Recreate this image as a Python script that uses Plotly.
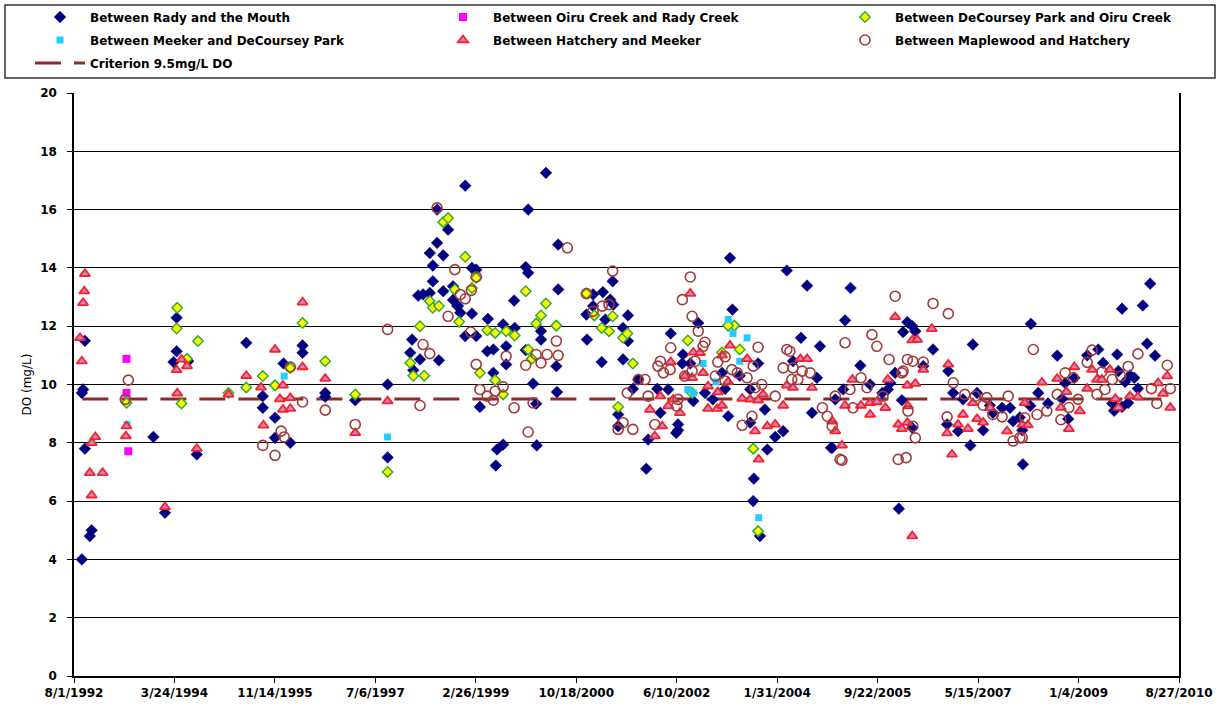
import datetime as dt
import plotly.graph_objects as go

# ---------------- data (decimal year, DO mg/L) ----------------
rady_t = [1992.71, 1992.84, 1992.87, 1992.76, 1992.71, 1992.73, 1992.76, 1994.26, 1994.26, 1994.21,
          1994.45, 1993.88, 1994.07, 1994.59, 1995.40, 1995.67, 1995.67,
          1996.01, 1995.87, 1995.87, 1996.12, 1996.32, 1996.32, 1996.69, 1996.69, 1997.18, 1997.71,
          1997.71, 1998.11, 1998.08, 1998.24, 1998.13, 1998.55, 1998.21, 1998.29, 1998.40, 1998.45,
          1998.45, 1998.40, 1998.52, 1998.62, 1998.70, 1998.62, 1998.78, 1998.85, 1998.52,
          1998.98, 2000.30, 2000.01, 2000.50, 1999.09, 1999.16, 1999.97, 2000.01, 2001.39, 1998.78,
          1998.86, 1998.90, 1999.09, 1998.98, 1999.16, 1999.35, 1999.60, 1999.78, 1999.34, 1999.44,
          1999.65, 1999.65, 1999.44, 1999.79, 1999.97, 2000.22, 2000.22, 2000.47, 2000.09, 2000.48,
          2000.14, 1999.22, 1999.60, 1999.50, 1999.48, 2000.15, 2000.50, 2000.97, 2001.07, 2001.23,
          2000.96, 2001.07, 2001.35, 2001.40, 2001.27, 2001.64, 2001.56, 2001.64, 2001.21, 2001.56,
          2001.72, 2001.81, 2001.48, 2001.48, 2001.94, 2001.97,
          2003.31, 2004.24, 2004.57, 2003.35, 2002.79, 2002.34, 2004.47, 2004.78, 2002.54, 2002.66,
          2002.53, 2004.34, 2002.12, 2002.30, 2002.17, 2002.46, 2002.46, 2002.43, 2002.71, 2002.90,
          2003.03, 2003.18, 2003.23, 2003.47, 2003.28, 2003.64, 2003.77, 2003.88, 2003.64, 2004.05,
          2004.18, 2003.92, 2003.70, 2003.69, 2003.80, 2004.65, 2004.96, 2004.73, 2005.03,
          2005.28, 2005.19, 2005.44, 2005.16, 2005.60, 2005.80, 2005.89, 2005.93, 2006.01, 2006.21,
          2006.29, 2006.34, 2006.14, 2006.12, 2006.29, 2006.07, 2006.63, 2006.47, 2006.88, 2006.96,
          2006.86, 2007.04, 2007.28, 2007.35, 2007.24, 2007.45, 2007.12, 2007.56, 2007.61, 2007.76,
          2007.89, 2007.94, 2008.10, 2004.98, 2008.23,
          2008.66, 2010.18, 2009.72, 2010.06, 2010.13, 2010.26, 2009.33, 2009.15, 2009.64, 2009.41,
          2009.66, 2009.85, 2009.92, 2008.94, 2008.79, 2008.35, 2008.51, 2008.74, 2008.84, 2009.77,
          2009.98, 2009.56, 2009.59, 2009.72, 2009.82, 2008.05, 2008.22, 2008.09]
rady_v = [4.0, 4.8, 5.0, 7.8, 9.71, 9.83, 11.5, 12.29, 11.14, 10.77,
          10.8, 8.2, 5.6, 7.6, 11.43, 9.6, 9.2,
          10.72, 8.86, 8.17, 8.0, 11.34, 11.09, 9.71, 9.58, 9.46, 10.0,
          7.5, 11.54, 11.09, 10.86, 10.49, 10.83, 13.05, 13.09, 13.14, 13.54,
          14.08, 14.51, 14.86, 14.43, 15.31, 13.2, 12.9, 12.7, 16.0,
          16.82, 17.26, 16.0, 14.8, 14.0, 13.94, 14.03, 13.83, 13.54, 13.37,
          12.69, 12.46, 12.43, 11.66, 11.66, 12.25, 12.06, 12.88, 11.14, 11.2,
          11.31, 10.69, 10.4, 11.94, 11.18, 11.83, 11.54, 10.63, 10.03, 9.74,
          9.34, 9.23, 7.94, 7.77, 7.22, 7.91, 13.26, 11.54, 13.09, 13.17,
          12.4, 12.69, 12.91, 12.74, 12.23, 12.37, 11.94, 11.49, 10.77, 10.86,
          9.85, 10.17, 8.97, 8.57, 7.11, 8.11,
          14.34, 13.91, 13.39, 12.57, 12.11, 11.75, 11.6, 11.31, 11.03, 10.72,
          10.72, 10.8, 9.85, 9.83, 9.03, 8.63, 8.43, 8.34, 9.43, 9.71,
          9.49, 10.4, 9.85, 10.3, 8.91, 9.83, 10.72, 9.14, 8.69, 8.2,
          8.4, 7.77, 6.77, 6.0, 4.8, 9.03, 7.83, 10.23, 9.49,
          13.31, 12.2, 10.65, 9.83, 10.0, 9.71, 9.83, 10.05, 10.4, 12.14,
          12.0, 11.83, 11.8, 9.46, 8.51, 5.74, 11.2, 10.63, 10.46, 9.71,
          8.63, 8.4, 11.37, 9.71, 7.91, 8.43, 9.49, 9.28, 9.03, 9.2,
          9.2, 8.74, 7.26, 7.83, 12.08,
          10.99, 13.46, 12.6, 12.71, 11.4, 10.99, 11.2, 11.0, 11.03, 10.74,
          10.46, 10.31, 10.23, 10.23, 10.05, 9.71, 9.35, 9.51, 8.82, 10.09,
          9.86, 9.35, 9.1, 9.23, 9.37, 8.87, 9.27, 8.43]

oiru_t = [1993.44, 1993.44, 1993.47]
oiru_v = [10.88, 9.71, 7.71]

decoursey_t = [1994.27, 1994.26, 1994.61, 1994.34, 1994.43, 1993.44, 1995.11, 1995.40, 1995.67, 1995.87,
               1996.12, 1996.32, 1996.69, 1997.18, 1997.71, 1998.08, 1998.13, 1998.31, 1998.24, 1998.40,
               1998.45, 1998.55, 1998.62, 1998.70, 1998.81, 1998.88, 1998.98, 1999.16, 1999.09, 1999.34,
               1999.47, 1999.65, 1999.79, 1999.97, 2000.30, 2000.22, 2000.14, 2000.47, 2000.01, 2000.07,
               1999.22, 1999.47, 1999.60, 2000.96, 2001.09, 2001.21, 2001.33, 2001.39, 2001.56, 2001.63,
               2001.72, 2001.48, 2002.62, 2003.38, 2003.28, 2003.47, 2003.18, 2003.69, 2003.77, 2002.69]
decoursey_v = [12.63, 11.92, 11.49, 9.35, 10.88, 9.37, 9.71, 9.9, 10.29, 9.97,
               10.57, 12.11, 10.8, 9.66, 7.0, 10.74, 10.3, 10.3, 12.0, 12.86,
               12.63, 12.69, 15.57, 15.71, 13.26, 12.15, 14.38, 13.66, 13.31, 11.86,
               11.77, 11.83, 11.68, 13.2, 12.78, 12.37, 12.09, 12.02, 11.2, 10.88,
               10.4, 10.15, 9.66, 13.12, 12.37, 11.94, 11.83, 12.34, 11.6, 11.75,
               10.72, 9.23, 11.51, 12.02, 12.02, 11.2, 11.1, 7.8, 4.97, 9.71]

meeker_t = [1993.45, 1996.02, 1997.71, 2003.28, 2003.36, 2003.59, 2002.87, 2003.47, 2003.08, 2002.62,
            2002.71, 2003.78]
meeker_v = [8.63, 10.29, 8.2, 12.23, 11.75, 11.6, 10.72, 10.8, 10.09, 9.83,
            9.71, 5.43]

hatchery_t = [1992.76, 1992.75, 1992.73, 1992.68, 1992.71, 1992.87, 1992.93, 1992.84, 1993.05, 1992.87,
              1994.07, 1994.26, 1994.34, 1994.43, 1994.27, 1993.44, 1993.43, 1994.59, 1995.11, 1995.40,
              1995.64, 1995.68, 1996.32, 1995.87, 1996.32, 1996.69, 1996.00, 1995.95, 1996.12, 1996.00,
              1996.12, 1997.18, 1997.71,
              2002.66, 2003.31, 2002.71, 2002.82, 2002.34, 2002.87, 2003.18, 2003.59, 2002.57, 2002.69,
              2002.95, 2003.11, 2003.28, 2002.17, 2002.38, 2003.51, 2003.64, 2003.77, 2003.85, 2002.00,
              2002.30, 2002.95, 2003.10, 2003.18, 2002.49, 2002.08, 2002.20, 2003.72, 2003.92, 2004.05,
              2003.78, 2004.18, 2004.24, 2004.34, 2004.46, 2004.57, 2004.65,
              2006.01, 2006.61, 2006.29, 2006.37, 2006.47, 2006.88, 2005.31, 2005.89, 2006.21, 2006.34,
              2005.19, 2005.60, 2005.71, 2005.85, 2005.60, 2005.45, 2006.22, 2006.06, 2006.12, 2006.21,
              2005.03, 2004.98, 2005.14, 2006.29, 2006.86, 2006.94, 2007.04, 2007.20, 2007.12, 2007.35,
              2007.45, 2007.28, 2007.56, 2007.84, 2008.09, 2008.13,
              2008.94, 2008.66, 2008.41, 2008.81, 2009.15, 2009.31, 2009.52, 2009.23, 2009.39, 2008.72,
              2008.85, 2009.03, 2009.61, 2009.66, 2009.85, 2009.98, 2010.31, 2010.46, 2010.39, 2010.51,
              2008.18]
hatchery_v = [13.8, 13.2, 12.8, 11.6, 10.8, 8.0, 8.2, 6.97, 6.97, 6.2,
              5.8, 10.5, 10.86, 10.63, 9.7, 8.57, 8.23, 7.8, 9.66, 10.3,
              9.9, 8.6, 12.82, 11.2, 10.6, 10.2, 9.97, 9.5, 9.54, 9.14,
              9.17, 8.34, 9.43,
              13.12, 11.34, 11.1, 11.09, 10.77, 10.4, 11.0, 10.88, 10.29, 10.23,
              9.94, 9.74, 10.09, 9.6, 9.49, 9.52, 9.49, 9.46, 9.66, 9.14,
              9.26, 9.17, 9.17, 9.28, 9.03, 8.23, 8.57, 8.4, 8.57, 8.63,
              7.43, 9.28, 9.97, 9.89, 10.88, 10.88, 9.89,
              12.32, 11.91, 11.52, 11.54, 10.51, 10.69, 10.17, 10.17, 9.97, 10.03,
              9.28, 9.37, 9.4, 9.2, 8.97, 9.28, 9.26, 8.63, 8.48, 8.69,
              8.4, 8.74, 7.91, 4.8, 8.33, 7.6, 8.63, 8.48, 8.97, 8.82,
              8.7, 9.37, 9.2, 8.4, 8.63, 9.37,
              10.6, 10.2, 10.07, 9.75, 9.86, 10.17, 10.51, 10.51, 10.17, 9.21,
              8.48, 9.09, 9.51, 9.21, 9.6, 9.57, 10.05, 10.29, 9.69, 9.21,
              8.61]

maplewood_t = [1993.47, 1993.42, 1995.67, 1996.12, 1996.32, 1996.69, 1997.18, 1995.97, 1996.02, 1995.87,
               1997.71, 1998.24, 1998.29, 1998.40, 1998.52, 1998.81, 1998.70, 1999.16, 1998.90, 1998.98,
               1999.08, 1999.07, 1999.16, 1999.65, 1999.22, 1999.34, 1999.44, 1999.47, 1999.60, 1999.78,
               1999.97, 2000.14, 2000.22, 2000.32, 2000.09, 2000.47, 2000.50, 2000.01, 2000.65, 2001.39,
               2000.96, 2001.07, 2001.22, 2001.33, 2001.63, 2001.81, 2001.92, 2001.56, 2001.48, 2001.72,
               2002.66, 2002.53, 2002.69, 2002.79, 2002.34, 2002.90, 2002.87, 2002.17, 2002.13, 2002.22,
               2002.33, 2001.97, 2002.46, 2002.44, 2002.74, 2002.69, 2002.57, 2003.11, 2003.23, 2003.34,
               2003.43, 2003.07, 2003.23, 2003.69, 2003.77, 2003.72, 2003.83, 2003.59, 2004.05, 2003.51,
               2003.67, 2002.08, 2004.24, 2004.29, 2004.18, 2004.34, 2004.49, 2004.62, 2004.32, 2004.42,
               2004.82, 2004.90, 2004.98, 2005.11,
               2006.01, 2006.63, 2006.88, 2005.19, 2005.63, 2005.71, 2005.91, 2006.21, 2006.30, 2006.47,
               2006.14, 2005.45, 2005.55, 2005.27, 2005.03, 2005.32, 2005.81, 2006.12, 2006.22, 2006.34,
               2006.30, 2006.06, 2006.19, 2005.14, 2006.96, 2006.86, 2007.15, 2007.32, 2007.45, 2007.61,
               2007.76, 2007.86, 2007.94, 2008.09, 2008.13, 2007.51,
               2008.27, 2009.23, 2009.15, 2008.79, 2008.92, 2009.39, 2009.56, 2009.70, 2009.82, 2009.98,
               2010.46, 2008.66, 2008.85, 2008.72, 2009.00, 2009.31, 2009.44, 2008.49, 2008.33, 2008.05,
               2010.20, 2010.29, 2010.51]
maplewood_v = [10.15, 9.49, 7.91, 10.6, 9.4, 9.12, 8.63, 8.4, 8.2, 7.57,
               11.89, 9.28, 11.37, 11.06, 16.06, 13.94, 12.34, 13.69, 13.09, 12.94,
               13.23, 11.8, 10.69, 10.97, 9.83, 9.6, 9.46, 9.77, 9.92, 9.2,
               10.66, 11.03, 10.74, 11.03, 9.37, 11.49, 11.0, 8.37, 14.69, 13.89,
               13.12, 12.51, 12.69, 12.74, 9.71, 10.17, 10.17, 8.69, 8.46, 8.46,
               13.69, 12.91, 12.34, 11.83, 11.26, 11.45, 11.31, 10.8, 10.63, 10.4,
               10.51, 9.6, 9.49, 9.26, 10.8, 10.46, 10.29, 10.77, 10.95, 10.51,
               10.4, 10.29, 10.12, 10.63, 11.28, 9.89, 10.0, 10.23, 9.6, 8.6,
               8.91, 8.63, 11.2, 11.14, 10.57, 10.57, 10.46, 10.4, 10.17, 10.17,
               9.2, 8.91, 8.57, 7.43,
               13.03, 12.78, 12.43, 11.43, 11.71, 11.31, 10.86, 10.86, 10.8, 10.77,
               10.46, 10.23, 9.89, 9.83, 9.6, 9.2, 9.6, 10.4, 9.09, 8.17,
               8.57, 7.43, 7.49, 7.4, 10.06, 8.89, 9.66, 9.6, 9.29, 8.97,
               8.89, 9.6, 8.06, 8.17, 8.86, 9.55,
               11.2, 11.18, 10.76, 10.4, 10.23, 10.43, 10.17, 10.29, 10.62, 11.05,
               10.66, 9.66, 9.21, 8.79, 9.49, 9.66, 9.83, 9.09, 8.97, 8.17,
               9.86, 9.35, 9.86]

criterion_x = ["1992-09-20", "2010-07-15"]
criterion_y = [9.5, 9.5]

tick_dates = ["1992-08-01", "1994-03-24", "1995-11-14", "1997-07-06", "1999-02-26", "2000-10-18",
              "2002-06-10", "2004-01-31", "2005-09-22", "2007-05-15", "2009-01-04", "2010-08-27"]
tick_labels = ["8/1/1992", "3/24/1994", "11/14/1995", "7/6/1997", "2/26/1999", "10/18/2000",
               "6/10/2002", "1/31/2004", "9/22/2005", "5/15/2007", "1/4/2009", "8/27/2010"]

names = ["Between Rady and the Mouth", "Between Oiru Creek and Rady Creek",
         "Between DeCoursey Park and Oiru Creek", "Between Meeker and DeCoursey Park",
         "Between Hatchery and Meeker", "Between Maplewood and Hatchery", "Criterion 9.5mg/L DO"]


def to_date(t):
    y = int(t)
    a = dt.datetime(y, 1, 1)
    b = dt.datetime(y + 1, 1, 1)
    return a + (t - y) * (b - a)


def dates(ts):
    return [to_date(t) for t in ts]


FONT = "DejaVu Sans"
fig = go.Figure()

fig.add_trace(go.Scatter(x=criterion_x, y=criterion_y, mode="lines", name=names[6],
                         line=dict(color="#8E2A2A", width=3, dash="26px,13px"), legend="legend7"))
fig.add_trace(go.Scatter(x=dates(rady_t), y=rady_v, mode="markers", name=names[0], legend="legend",
                         marker=dict(symbol="diamond", size=9, color="#000080",
                                     line=dict(color="#000080", width=0.5))))
fig.add_trace(go.Scatter(x=dates(oiru_t), y=oiru_v, mode="markers", name=names[1], legend="legend2",
                         marker=dict(symbol="square", size=8, color="#FF00FF",
                                     line=dict(color="#FF00FF", width=0))))
fig.add_trace(go.Scatter(x=dates(decoursey_t), y=decoursey_v, mode="markers", name=names[2],
                         legend="legend3",
                         marker=dict(symbol="diamond", size=8, color="#FFFF00",
                                     line=dict(color="#33AA33", width=1.5))))
fig.add_trace(go.Scatter(x=dates(meeker_t), y=meeker_v, mode="markers", name=names[3], legend="legend4",
                         marker=dict(symbol="square", size=7, color="#22CCFF",
                                     line=dict(color="#22CCFF", width=0))))
fig.add_trace(go.Scatter(x=dates(hatchery_t), y=hatchery_v, mode="markers", name=names[4],
                         legend="legend5",
                         marker=dict(symbol="triangle-up", size=9, color="#B88AD8",
                                     line=dict(color="#FF2020", width=1.8))))
fig.add_trace(go.Scatter(x=dates(maplewood_t), y=maplewood_v, mode="markers", name=names[5],
                         legend="legend6",
                         marker=dict(symbol="circle-open", size=10, color="#A33A3A",
                                     line=dict(color="#A33A3A", width=1.6))))

L, R, T, B = 74, 39, 93, 32
W, H = 1218, 708
pw, ph = W - L - R, H - T - B


def px_x(px):
    return (px - L) / pw


def px_y(py):
    return (H - B - py) / ph


leg_font = dict(family=FONT, size=12, color="black", weight="bold")
col_px = [30, 433, 835]
row_px = [17, 40, 63]
legend_slots = [(0, 0), (1, 0), (2, 0), (0, 1), (1, 1), (2, 1), (0, 2)]
legends = {}
for i, (c, r) in enumerate(legend_slots):
    key = "legend" if i == 0 else f"legend{i + 1}"
    legends[key] = dict(x=px_x(col_px[c]), y=px_y(row_px[r]), xanchor="left", yanchor="middle",
                        bgcolor="rgba(0,0,0,0)", borderwidth=0, font=leg_font, itemwidth=50,
                        orientation="v", tracegroupgap=0)

fig.update_layout(
    width=W, height=H,
    margin=dict(l=L, r=R, t=T, b=B, pad=0, autoexpand=False),
    paper_bgcolor="white", plot_bgcolor="white",
    showlegend=True,
    xaxis=dict(type="date", range=["1992-08-01", "2010-08-27"], tickvals=tick_dates,
               ticktext=tick_labels, showgrid=False, showline=True, linecolor="black", linewidth=1.5,
               ticks="outside", ticklen=5, tickcolor="black", tickfont=dict(family=FONT, size=12,
                                                                            color="black",
                                                                            weight="bold"),
               zeroline=False, automargin=False),
    yaxis=dict(range=[0, 20], dtick=2, tick0=0, showgrid=True, gridcolor="black", gridwidth=1.2,
               showline=True, linecolor="black", linewidth=1.5, mirror=True,
               ticks="outside", ticklen=5, tickcolor="black", ticklabelstandoff=8,
               tickfont=dict(family=FONT, size=12, color="black", weight="bold"), zeroline=False,
               automargin=False),
    shapes=[dict(type="rect", xref="paper", yref="paper", x0=px_x(5), x1=px_x(1215),
                 y0=px_y(78), y1=px_y(5), line=dict(color="#333333", width=1.5),
                 fillcolor="rgba(0,0,0,0)", layer="above")],
    annotations=[dict(text="DO (mg/L)", xref="paper", yref="paper", x=px_x(26), y=0.5,
                      textangle=-90, showarrow=False, xanchor="center", yanchor="middle",
                      font=dict(family=FONT, size=12, color="black"))],
    **legends,
)

fig.write_html("out.html")
